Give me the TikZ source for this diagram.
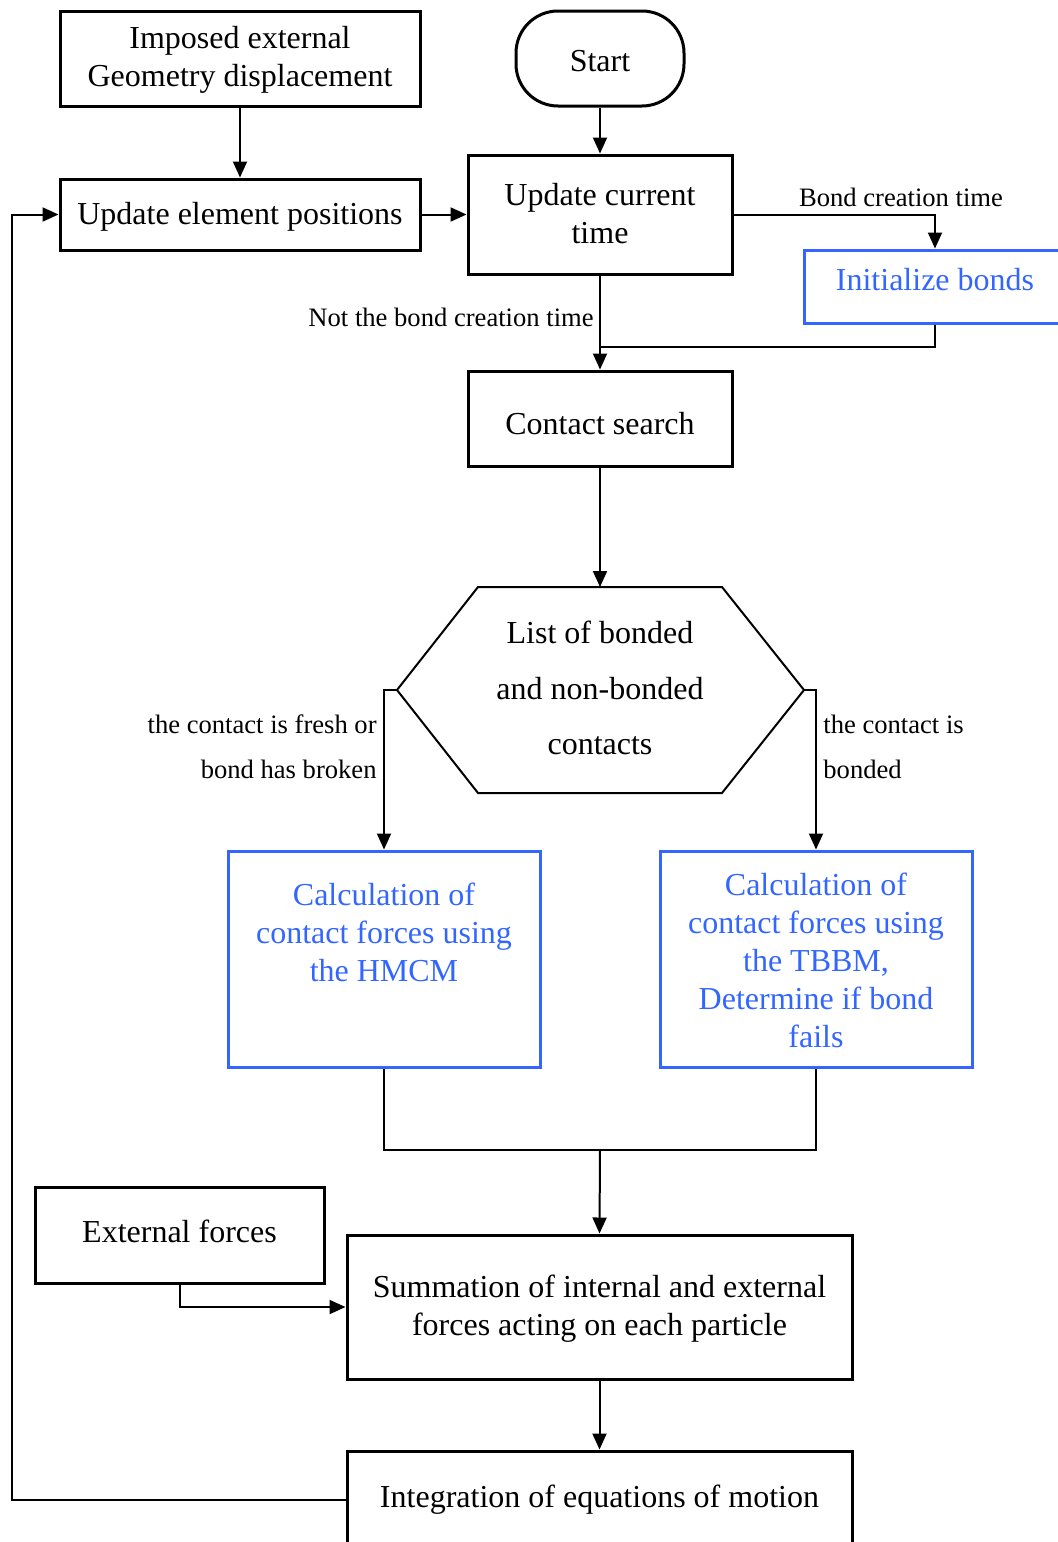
\documentclass[tikz,border=0pt]{standalone}
\usepackage{fontspec}
\setmainfont{Liberation Serif}
\usetikzlibrary{arrows.meta}
\definecolor{bondblue}{RGB}{51,102,255}
\begin{document}
\begin{tikzpicture}[x=0.5pt,y=-0.5pt,
  box/.style={draw, line width=1.5pt, inner sep=0pt, align=center,
    font=\fontsize{16}{19}\selectfont},
  bluebox/.style={box, draw=bondblue, text=bondblue},
  txt/.style={inner sep=0pt, align=center, font=\fontsize{16}{19}\selectfont},
  conn/.style={line width=1pt, -{Triangle[length=8pt,width=7pt]}},
  link/.style={line width=1pt},
  lbl/.style={inner sep=0pt, font=\fontsize{13.3}{22.5}\selectfont}
]
\useasboundingbox (0,0) rectangle (1058,1542);

% process boxes
\node[box, minimum width=180pt, minimum height=47.5pt] (imposed) at (240,58.5) {};
\node[txt] (imposedtext) at (240,60) {Imposed external\\Geometry displacement};
\node[box, minimum width=84pt, minimum height=47.5pt, rounded corners=21pt] (start) at (600,58.5) {};
\node[txt] (starttext) at (600,61) {Start};
\node[box, minimum width=180pt, minimum height=35.5pt] (uep) at (240,214.5) {};
\node[txt] (ueptext) at (240,217) {Update element positions};
\node[box, minimum width=132pt, minimum height=59.5pt] (uct) at (600,214.5) {};
\node[txt] (ucttext) at (600,214) {Update current\\time};
\node[bluebox, minimum width=131pt, minimum height=36.5pt] (init) at (935,286.5) {};
\node[txt, text=bondblue] (inittext) at (935,280) {Initialize bonds};
\node[box, minimum width=132pt, minimum height=47.5pt] (cs) at (600,418.5) {};
\node[txt] (cstext) at (600,424) {Contact search};

% decision hexagon
\coordinate (hexT) at (600,587);
\coordinate (hexL) at (397,690);
\coordinate (hexR) at (804,690);
\draw[line width=1pt, line join=miter] (478,587) -- (722,587) -- (hexR) -- (722,793) -- (478,793) -- (hexL) -- cycle;
\node[inner sep=0pt, align=center, font=\fontsize{16}{27.7}\selectfont] (hextext) at (600,688)
  {List of bonded\\and non-bonded\\contacts};

% contact force models
\node[bluebox, minimum width=156pt, minimum height=108pt] (hmcm) at (384,959) {};
\node[txt, text=bondblue] (hmcmtext) at (384,932)
  {Calculation of\\contact forces using\\the HMCM};
\node[bluebox, minimum width=156pt, minimum height=108pt] (tbbm) at (816,959) {};
\node[txt, text=bondblue] (tbbmtext) at (816,960)
  {Calculation of\\contact forces using\\the TBBM,\\Determine if bond\\fails};

\node[box, minimum width=144.5pt, minimum height=48pt] (ext) at (179.5,1235) {};
\node[txt] (exttext) at (179.5,1231) {External forces};
\node[box, minimum width=252.5pt, minimum height=72pt] (sum) at (599.5,1307) {};
\node[txt] (sumtext) at (599.5,1309)
  {Summation of internal and external\\forces acting on each particle};
\node[box, minimum width=252.5pt, minimum height=48.5pt] (integ) at (599.5,1499.5) {};
\node[txt] (integtext) at (599.5,1499.5) {Integration of equations of motion};

% connectors
\draw[conn] (imposed.south) -- (uep.north);
\draw[conn] (start.south) -- (uct.north);
\draw[conn] (uep.east) -- (uct.west);
\draw[conn] (uct.east) -| (init.north);
\node[lbl] (lblbond) at (901,197) {Bond creation time};

\coordinate (join) at (600,347);
\draw[conn] (uct.south) -- (cs.north);
\draw[link] (init.south) |- (join);
\node[lbl, anchor=east] (lblnot) at (594,317) {Not the bond creation time};

\draw[conn] (cs.south) -- (hexT);
\draw[conn] (hexL) -| (hmcm.north);
\draw[conn] (hexR) -| (tbbm.north);
\node[lbl, anchor=east, align=right] (lblfresh) at (377,747) {the contact is fresh or\\bond has broken};
\node[lbl, anchor=west, align=left] (lblbonded) at (823,747) {the contact is\\bonded};

\coordinate (merge) at (600,1150);
\draw[link] (hmcm.south) |- (merge) -| (tbbm.south);
\draw[conn] (merge) -- (sum.north);
\draw[conn] (ext.south) |- (sum.west);
\draw[conn] (sum.south) -- (integ.north);

\coordinate (loopcorner) at (12,1499.5);
\draw[conn] (integ.west) -- (loopcorner) |- (uep.west);
\end{tikzpicture}
\end{document}
